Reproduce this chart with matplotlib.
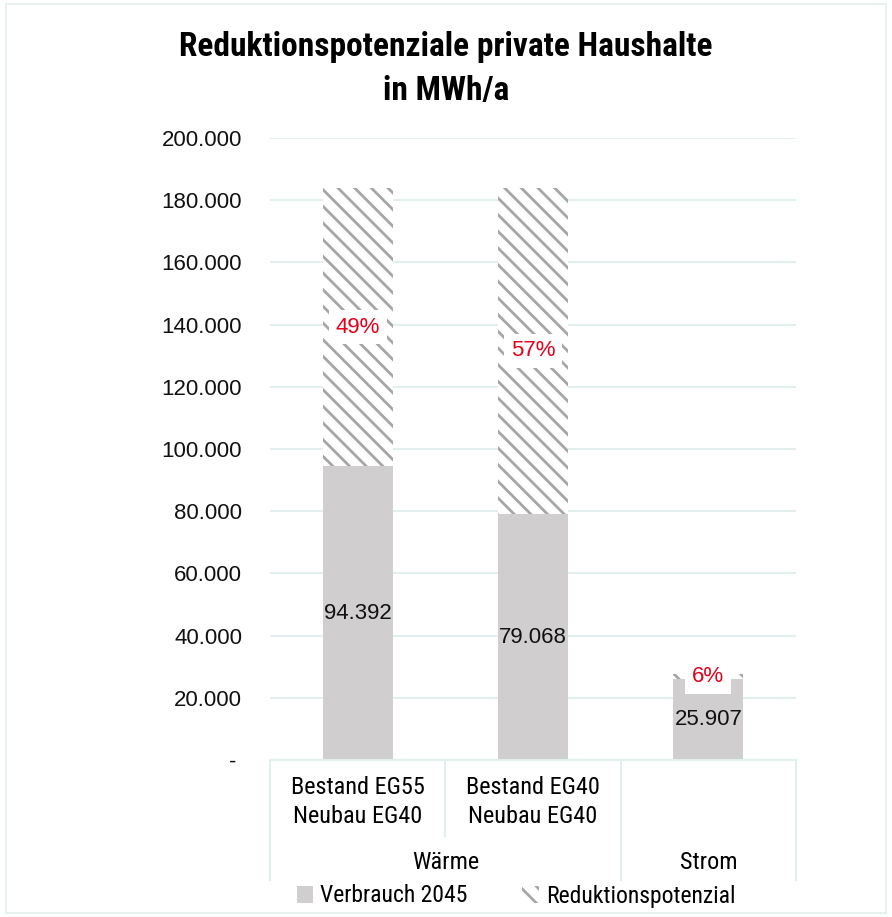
import matplotlib
matplotlib.use("Agg")
import matplotlib.pyplot as plt
from matplotlib.patches import Patch, Rectangle
from matplotlib.ticker import FuncFormatter
import matplotlib.transforms as mtrans
from matplotlib import font_manager

# Data
sub_labels = ["Bestand EG55\nNeubau EG40", "Bestand EG40\nNeubau EG40", ""]
group_labels = ["Wärme", "Strom"]
verbrauch = [94392, 79068, 25907]
reduktion = [89608, 104932, 1650]
prozent = ["49%", "57%", "6%"]

grey = "#d0cece"
hatch_grey = "#a6a6a6"
grid_col = "#e2efee"
red = "#e2001a"

# pick a narrow font if one is installed
names = {f.name for f in font_manager.fontManager.ttflist}
cands = ["Liberation Sans Narrow", "Roboto Condensed", "Noto Sans Condensed",
         "Open Sans Condensed", "DejaVu Sans Condensed"]
narrow = [n for n in cands if n in names] + ["DejaVu Sans"]
regular = ["Liberation Sans", "DejaVu Sans"]

plt.rcParams["hatch.linewidth"] = 2.0

fig = plt.figure(figsize=(8.92, 9.17), dpi=100)
ax = fig.add_axes([270 / 892, 1 - 760 / 917, 526 / 892, 622 / 917])

x = list(range(len(verbrauch)))
ax.bar(x, verbrauch, width=0.4, color=grey, linewidth=0)
ax.bar(x, reduktion, width=0.4, bottom=verbrauch, color="white",
       edgecolor=hatch_grey, hatch="\\\\", linewidth=0)

# value labels
for i in x:
    ax.text(i, verbrauch[i] / 2, f"{verbrauch[i]:,}".replace(",", "."),
            ha="center", va="center", fontsize=16, family=regular, color="#111111")
    ax.text(i, verbrauch[i] + reduktion[i] / 2, prozent[i], ha="center", va="center",
            fontsize=16, family=regular, color=red,
            bbox=dict(facecolor="white", edgecolor="none", pad=5))

ax.set_xlim(-0.5, 2.5)
ax.set_ylim(0, 200000)
ax.set_yticks(range(0, 200001, 20000))
ax.yaxis.set_major_formatter(FuncFormatter(
    lambda v, p: "- " if v == 0 else f"{int(v):,}".replace(",", ".")))
ax.tick_params(axis="y", length=0, pad=20, labelsize=16, colors="#111111")
for lab in ax.get_yticklabels():
    lab.set_family(regular)
ax.set_xticks([])
ax.grid(axis="y", color=grid_col, linewidth=1.5)
ax.set_axisbelow(True)
for s in ["top", "right", "left"]:
    ax.spines[s].set_visible(False)
ax.spines["bottom"].set_color(grid_col)
ax.spines["bottom"].set_linewidth(1.5)

# hierarchical category axis
tr = mtrans.blended_transform_factory(ax.transData, ax.transAxes)
for xb, y0 in [(-0.5, -0.193), (0.5, -0.122), (1.5, -0.193), (2.5, -0.193)]:
    ax.plot([xb, xb], [0, y0], transform=tr, color=grid_col, lw=1.5, clip_on=False)
for i, lab in enumerate(sub_labels):
    ax.text(i, -0.068, lab, transform=tr, ha="center", va="center",
            fontsize=17.5, family=narrow, stretch="condensed", linespacing=1.35)
ax.text(0.5, -0.164, group_labels[0], transform=tr, ha="center", va="center",
        fontsize=17.5, family=narrow, stretch="condensed")
ax.text(2.0, -0.164, group_labels[1], transform=tr, ha="center", va="center",
        fontsize=17.5, family=narrow, stretch="condensed")

fig.text(0.5, 1 - 69 / 917, "Reduktionspotenziale private Haushalte\nin MWh/a",
         ha="center", va="center", fontsize=24, family=narrow, stretch="condensed",
         weight="bold", linespacing=1.45)

handles = [Patch(facecolor=grey, edgecolor="none", label="Verbrauch 2045"),
           Patch(facecolor="white", edgecolor=hatch_grey, hatch="\\\\", lw=0,
                 label="Reduktionspotenzial")]
fig.legend(handles=handles, loc="center", bbox_to_anchor=(516 / 892, 1 - 896 / 917),
           ncol=2, frameon=False,
           prop={"family": narrow, "size": 17, "stretch": "condensed"},
           handlelength=0.7, handleheight=0.7, handletextpad=0.3, columnspacing=2.3)

fig.add_artist(Rectangle((6 / 892, 4 / 917), 880 / 892, 909 / 917, transform=fig.transFigure,
                         fill=False, edgecolor=grid_col, lw=1.2))

fig.savefig("out.png", dpi=100)
